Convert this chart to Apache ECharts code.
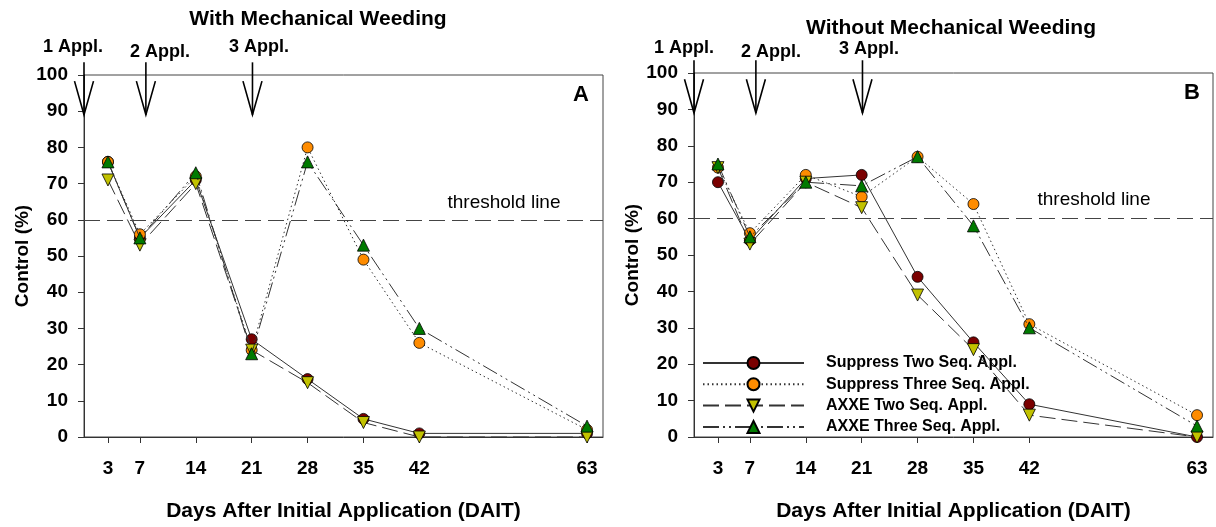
<!DOCTYPE html>
<html><head><meta charset="utf-8">
<script src="https://cdn.jsdelivr.net/npm/echarts@6/dist/echarts.min.js"></script>
<style>html,body{margin:0;padding:0;background:#fff}#c{width:1216px;height:527px}</style>
</head><body><div id="c"></div>
<script>
// ---------- data ----------
const days = [3, 7, 14, 21, 28, 35, 42, 63];
const dayTicks = [3, 7, 14, 21, 28, 35, 42, 63];
const seriesNames = ['Suppress Two Seq. Appl.', 'Suppress Three Seq. Appl.', 'AXXE Two Seq. Appl.', 'AXXE Three Seq. Appl.'];
// Panel A: With Mechanical Weeding
const supTwoA    = [76, 55, 71, 27, 16, 5, 1, 1];
const supThreeA  = [76, 56, 72, 24, 80, 49, 26, 2];
const axxeTwoA   = [71, 53, 70, 24, 15, 4, 0, 0];
const axxeThreeA = [76, 55, 73, 23, 76, 53, 30, 3];
// Panel B: Without Mechanical Weeding
const supTwoB    = [70, 54, 71, 72, 44, 26, 9, 0];
const supThreeB  = [74, 56, 72, 66, 77, 64, 31, 6];
const axxeTwoB   = [74, 53, 70, 63, 39, 24, 6, 0];
const axxeThreeB = [75, 55, 70, 69, 77, 58, 30, 3];
// application arrows (day)
const applDays = [0, 7.75, 21.1];
const applLabels = ['1 Appl.', '2 Appl.', '3 Appl.'];
const threshold = 60;

// ---------- style ----------
const FONT = "'Liberation Sans', Arial, sans-serif";
const colors = ['#7a0000', '#ff8c00', '#c2c200', '#007a00'];
const symbols = ['circle', 'circle', 'triangle', 'triangle'];
const rotates = [0, 0, 180, 0];
const dashes = ['solid', [1.5, 3], [16, 6], [16, 4, 2, 4, 2, 4]];
const ARROW_TOP = 103.5, ARROW_TIP = 89, ARROW_WING = 98.3;

const grids = [
  {left: 84, top: 75, width: 519, height: 363, show: true, borderColor: '#444', borderWidth: 1},
  {left: 694, top: 73, width: 519, height: 364, show: true, borderColor: '#444', borderWidth: 1}
];

function xAxis(i) {
  return {
    type: 'value', gridIndex: i, min: 0, max: 65,
    name: 'Days After Initial Application (DAIT)', nameLocation: 'middle', nameGap: 64,
    nameTextStyle: {fontFamily: FONT, fontWeight: 'bold', fontSize: 21, color: '#000'},
    axisLine: {lineStyle: {color: '#333', width: 1}},
    axisTick: {show: true, inside: false, length: 6, customValues: dayTicks, lineStyle: {color: '#333'}},
    axisLabel: {customValues: dayTicks, margin: 22, fontFamily: FONT, fontWeight: 'bold', fontSize: 19, color: '#000'},
    splitLine: {show: false}
  };
}
function yAxis(i) {
  return {
    type: 'value', gridIndex: i, min: 0, max: 100, interval: 10,
    name: 'Control (%)', nameLocation: 'middle', nameGap: 52,
    nameTextStyle: {fontFamily: FONT, fontWeight: 'bold', fontSize: 19, color: '#000'},
    axisLine: {show: true, lineStyle: {color: '#333', width: 1}},
    axisTick: {show: true, inside: false, length: 6, lineStyle: {color: '#333'}},
    axisLabel: {margin: 16, fontFamily: FONT, fontWeight: 'bold', fontSize: 19, color: '#000'},
    splitLine: {show: false}
  };
}

function lineSeries(k, vals, gi) {
  const s = {
    name: seriesNames[k], type: 'line', xAxisIndex: gi, yAxisIndex: gi,
    data: days.map((d, j) => [d, vals[j]]),
    symbol: symbols[k], symbolSize: k < 2 ? 11 : 12, symbolRotate: rotates[k],
    showAllSymbol: true, clip: false,
    lineStyle: {color: '#333', width: 1, type: dashes[k]},
    itemStyle: {color: colors[k], borderColor: '#000', borderWidth: 0.8},
    emphasis: {disabled: true}, animation: false, z: 3 + k
  };
  if (k === 0) {
    s.markLine = {
      silent: true, symbol: 'none', animation: false,
      label: {show: false},
      lineStyle: {color: '#444', width: 1, type: [16, 7]},
      data: [{yAxis: threshold}]
    };
  }
  return s;
}

function arrowSeries(gi) {
  return {
    type: 'custom', xAxisIndex: gi, yAxisIndex: gi, clip: false, silent: true, animation: false, z: 10,
    data: applDays.map(d => [d]),
    renderItem: function (params, api) {
      const x = api.value(0);
      const top = api.coord([x, ARROW_TOP]);
      const tip = api.coord([x, ARROW_TIP]);
      const wing = api.coord([x, ARROW_WING]);
      return {
        type: 'group', children: [
          {type: 'line', shape: {x1: top[0], y1: top[1], x2: tip[0], y2: tip[1]}, style: {stroke: '#000', lineWidth: 1.6}},
          {type: 'polyline', shape: {points: [[wing[0] - 9.5, wing[1]], [tip[0], tip[1]], [wing[0] + 9.5, wing[1]]]},
            style: {stroke: '#000', fill: null, lineWidth: 1.6}}
        ]
      };
    }
  };
}

function txt(x, y, text, size, weight) {
  return {type: 'text', x: x, y: y, z: 100, style: {text: text, fill: '#000', font: (weight || 'bold') + ' ' + size + 'px ' + FONT, textAlign: 'center', textVerticalAlign: 'middle'}};
}

const option = {
  backgroundColor: '#fff',
  animation: false,
  grid: grids,
  xAxis: [xAxis(0), xAxis(1)],
  yAxis: [yAxis(0), yAxis(1)],
  legend: {
    left: 697, top: 350, orient: 'vertical',
    itemWidth: 101, itemHeight: 15, itemGap: 5.3,
    data: seriesNames,
    textStyle: {fontFamily: FONT, fontWeight: 'bold', fontSize: 16, color: '#000', padding: [0, 0, 0, 17], lineHeight: 15},
    selectedMode: false
  },
  series: [
    lineSeries(0, supTwoA, 0), lineSeries(1, supThreeA, 0), lineSeries(2, axxeTwoA, 0), lineSeries(3, axxeThreeA, 0),
    lineSeries(0, supTwoB, 1), lineSeries(1, supThreeB, 1), lineSeries(2, axxeTwoB, 1), lineSeries(3, axxeThreeB, 1),
    arrowSeries(0), arrowSeries(1)
  ],
  graphic: [
    txt(318, 19, 'With Mechanical Weeding', 21),
    txt(951, 28, 'Without Mechanical Weeding', 21),
    txt(73, 47, applLabels[0], 18), txt(160, 52, applLabels[1], 18), txt(259, 47, applLabels[2], 18),
    txt(684, 48, applLabels[0], 18), txt(771, 52, applLabels[1], 18), txt(869, 49, applLabels[2], 18),
    txt(504, 203, 'threshold line', 19, 'normal'),
    txt(1094, 200, 'threshold line', 19, 'normal'),
    txt(581, 95, 'A', 22), txt(1192, 93, 'B', 22)
  ]
};
const chart = echarts.init(document.getElementById('c'), null, {renderer: 'canvas'});
chart.setOption(option);
</script></body></html>
